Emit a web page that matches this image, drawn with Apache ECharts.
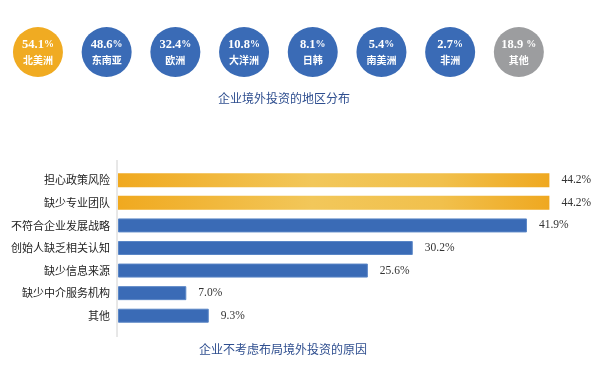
<!DOCTYPE html>
<html><head><meta charset="utf-8">
<script src="https://cdn.jsdelivr.net/npm/echarts@6/dist/echarts.min.js"></script>
<style>html,body{margin:0;padding:0;background:#fff}#c{width:612px;height:368px}</style>
</head><body><div id="c"></div>
<script>
const regions = ['北美洲','东南亚','欧洲','大洋洲','日韩','南美洲','非洲','其他'];
const regionPct = [54.1, 48.6, 32.4, 10.8, 8.1, 5.4, 2.7, 18.9];
const regionPctText = ['54.1','48.6','32.4','10.8','8.1','5.4','2.7','18.9 '];
const reasons = ['担心政策风险','缺少专业团队','不符合企业发展战略','创始人缺乏相关认知','缺少信息来源','缺少中介服务机构','其他'];
const reasonPct = [44.2, 44.2, 41.9, 30.2, 25.6, 7.0, 9.3];
const highlightReasons = 2;
const title1 = '企业境外投资的地区分布';
const title2 = '企业不考虑布局境外投资的原因';

const ORANGE = '#F0AB22', BLUE = '#3A6BB6', GRAY = '#9C9D9F';
const serif = '"Liberation Serif","Noto Sans CJK SC",serif';
const cjk = '"Noto Sans CJK SC",sans-serif';

function circleColor(i){ return i === 0 ? ORANGE : (i === regions.length-1 ? GRAY : BLUE); }
const goldGrad = new echarts.graphic.LinearGradient(0,0,1,0,[
  {offset:0,color:'#F0A91F'},{offset:0.45,color:'#F2C75A'},{offset:0.75,color:'#F1C04C'},{offset:1,color:'#EFA820'}]);

const chart = echarts.init(document.getElementById('c'), null, {renderer:'canvas'});
const option = {
  animation:false,
  grid:[
    {left:3.6, width:549.6, top:27, height:50},
    {left:118, width:488, top:169, height:158}
  ],
  xAxis:[
    {gridIndex:0, type:'category', data:regions, show:false},
    {gridIndex:1, type:'value', min:0, max:50, show:false}
  ],
  yAxis:[
    {gridIndex:0, type:'value', min:0, max:1, show:false},
    {gridIndex:1, type:'category', data:reasons, inverse:true,
     axisLine:{show:false}, axisTick:{show:false},
     axisLabel:{margin:8, color:'#222', fontSize:11, fontFamily:cjk}}
  ],
  title:[
    {text:title1, left:279, top:87, textAlign:'center',
     textStyle:{color:'#2E4E8F', fontSize:12, fontWeight:'normal', fontFamily:cjk}},
    {text:title2, left:278, top:338, textAlign:'center',
     textStyle:{color:'#2E4E8F', fontSize:12, fontWeight:'normal', fontFamily:cjk}}
  ],
  series:[
    {type:'scatter', xAxisIndex:0, yAxisIndex:0, symbol:'circle', symbolSize:50,
     itemStyle:{opacity:1},
     data: regions.map((r,i)=>({value:[r,0.5], itemStyle:{color:circleColor(i), opacity:1},
        label:{formatter:'{v|'+regionPctText[i]+'}{p|%}\n{n|'+r+'}'}})),
     label:{show:true, position:'inside',
       rich:{
         v:{color:'#fff', fontSize:12.5, fontWeight:'bold', fontFamily:serif, lineHeight:16},
         p:{color:'#fff', fontSize:10, fontWeight:'bold', fontFamily:serif, lineHeight:16},
         n:{color:'#fff', fontSize:10, fontWeight:'bold', fontFamily:cjk, lineHeight:15}
       }}
    },
    {type:'bar', xAxisIndex:1, yAxisIndex:1, barWidth:14,
     data: reasonPct.map((v,i)=>({value:v, itemStyle: i < highlightReasons ? {color:goldGrad} : {color:BLUE, borderColor:'#5A86C6', borderWidth:1}})),
     label:{show:true, position:'right', distance:12, color:'#333', fontSize:11.5, fontFamily:serif,
       formatter:p=>p.value.toFixed(1)+'%'}
    }
  ]
};
chart.setOption(option);
const ax = chart.convertToPixel({xAxisIndex:1}, 0);
chart.setOption({graphic:[{type:'line', shape:{x1:ax-1, y1:160, x2:ax-1, y2:337}, style:{stroke:'#D0D0D0', lineWidth:1}}]});
</script></body></html>
